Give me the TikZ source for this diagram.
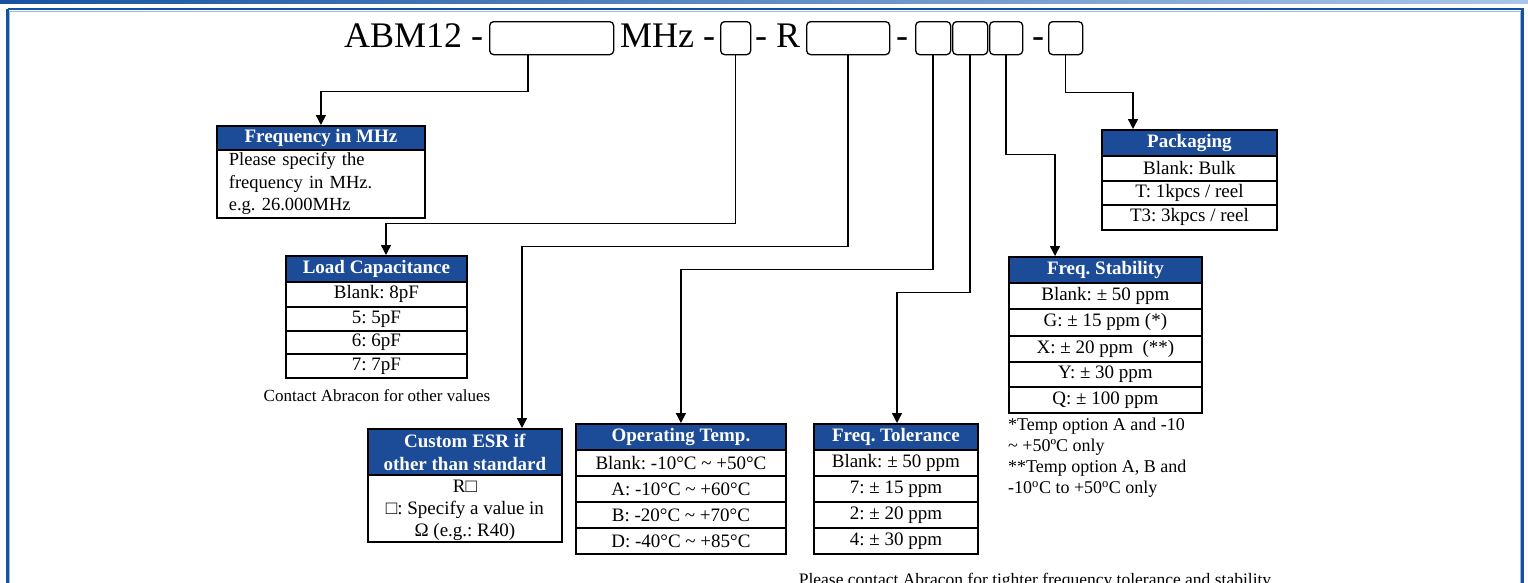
\documentclass[tikz,border=0pt]{standalone}
\usepackage{fontspec}
\setmainfont{Liberation Serif}
\usetikzlibrary{arrows.meta,calc}
\definecolor{hdrblue}{RGB}{28,76,152}
\definecolor{framedark}{RGB}{22,82,160}
\definecolor{framelight}{RGB}{150,185,225}
\definecolor{barlight}{RGB}{170,198,232}
\frenchspacing
\begin{document}
\begin{tikzpicture}[x=1pt,y=-1pt,
  ptext/.style={font=\fontsize{36}{40}\selectfont, inner sep=0pt, anchor=base west},
  pbox/.style={draw, rounded corners=4pt, line width=1.3pt, minimum height=33pt, inner sep=0pt, anchor=north west},
  thead/.style={draw=black, fill=hdrblue, text=white, font=\fontsize{19}{23}\selectfont\bfseries, line width=1.8pt, inner sep=0pt, anchor=north west, align=center},
  cell/.style={draw=black, line width=1.8pt, inner sep=0pt, anchor=north west, font=\fontsize{19}{22.5}\selectfont, align=center},
  note/.style={font=\fontsize{17}{21}\selectfont, inner sep=0pt},
  conn/.style={line width=1.4pt, -{Triangle[length=10pt,width=10pt]}}]
\useasboundingbox (0,0) rectangle (1528,582);
\clip (0,0) rectangle (1528,582);
\fill[white] (0,0) rectangle (1528,582);
% top bar and frame
\shade[left color=framedark, right color=barlight] (0,0) rectangle (1528,3);
\draw[framedark, line width=2.5pt] (7.5,9) -- (1522.5,9) -- (1522.5,600) (7.5,9) -- (7.5,600);
\draw[framelight, line width=1pt] (9.8,11.3) -- (1520.2,11.3) (9.8,11.3) -- (9.8,600) (1520.2,11.3) -- (1520.2,600);
% part number
\node[ptext] (t1) at (344,47) {ABM12 -};
\node[pbox, minimum width=124pt] (b1) at (489,21) {};
\node[ptext] (t2) at (620,47) {MHz -};
\node[pbox, minimum width=30pt] (b2) at (720,21) {};
\node[ptext] (t3) at (755,47) {- R};
\node[pbox, minimum width=83pt] (b3) at (806,21) {};
\node[ptext] (t4) at (896,47) {-};
\node[pbox, minimum width=35pt] (b4) at (915,21) {};
\node[pbox, minimum width=35pt] (b5) at (952,21) {};
\node[pbox, minimum width=33pt] (b6) at (989,21) {};
\node[ptext] (t5) at (1032,47) {-};
\node[pbox, minimum width=34pt] (b7) at (1048,21) {};
% Frequency in MHz
\node[thead, minimum width=208pt, minimum height=24pt] (fh) at (216,125) {Frequency in MHz};
\node[cell, minimum width=208pt, minimum height=68pt, text width=184pt, align=left, font=\fontsize{18.5}{22.5}\selectfont] (fb) at (216,149) {Please specify the\\frequency in MHz.\\e.g. 26.000MHz};
% Load capacitance
\node[thead, minimum width=181pt, minimum height=26pt] (lh) at (285,255) {Load Capacitance};
\node[cell, minimum width=181pt, minimum height=25pt] (l1) at (285,281) {Blank: 8pF};
\node[cell, minimum width=181pt, minimum height=24pt] (l2) at (285,306) {5: 5pF};
\node[cell, minimum width=181pt, minimum height=23pt] (l3) at (285,330) {6: 6pF};
\node[cell, minimum width=181pt, minimum height=24pt] (l4) at (285,353) {7: 7pF};
\node[note] (ln) at (377,396) {Contact Abracon for other values};
% Custom ESR
\node[thead, minimum width=194pt, minimum height=46pt] (eh) at (367,428) {Custom ESR if\\other than standard};
\node[cell, minimum width=194pt, minimum height=67pt] (eb) at (367,474) {};
\node[font=\fontsize{19}{22}\selectfont, inner sep=0pt, align=center] (ebt) at ($(eb.center)+(0,2)$) {R□\\□: Specify a value in\\Ω (e.g.: R40)};
% Operating temp
\node[thead, minimum width=210pt, minimum height=26pt] (oh) at (575,423) {Operating Temp.};
\node[cell, minimum width=210pt, minimum height=26pt] (o1) at (575,449) {Blank: -10°C \textasciitilde{} +50°C};
\node[cell, minimum width=210pt, minimum height=26pt] (o2) at (575,475) {A: -10°C \textasciitilde{} +60°C};
\node[cell, minimum width=210pt, minimum height=26pt] (o3) at (575,501) {B: -20°C \textasciitilde{} +70°C};
\node[cell, minimum width=210pt, minimum height=26pt] (o4) at (575,527) {D: -40°C \textasciitilde{} +85°C};
% Freq tolerance
\node[thead, minimum width=164pt, minimum height=26pt] (th) at (813,423) {Freq. Tolerance};
\node[cell, minimum width=164pt, minimum height=26pt] (t1r) at (813,449) {Blank: ± 50 ppm};
\node[cell, minimum width=164pt, minimum height=26pt] (t2r) at (813,475) {7: ± 15 ppm};
\node[cell, minimum width=164pt, minimum height=26pt] (t3r) at (813,501) {2: ± 20 ppm};
\node[cell, minimum width=164pt, minimum height=26pt] (t4r) at (813,527) {4: ± 30 ppm};
% Freq stability
\node[thead, minimum width=193pt, minimum height=26pt] (sh) at (1008,256) {Freq. Stability};
\node[cell, minimum width=193pt, minimum height=26pt] (s1) at (1008,282) {Blank: ± 50 ppm};
\node[cell, minimum width=193pt, minimum height=27pt] (s2) at (1008,308) {G: ± 15 ppm (*)};
\node[cell, minimum width=193pt, minimum height=26pt] (s3) at (1008,335) {X: ± 20 ppm~ (**)};
\node[cell, minimum width=193pt, minimum height=25pt] (s4) at (1008,361) {Y: ± 30 ppm};
\node[cell, minimum width=193pt, minimum height=26pt] (s5) at (1008,386) {Q: ± 100 ppm};
\node[note, anchor=north west, align=left, font=\fontsize{18}{21}\selectfont] (sn) at (1008,418) {*Temp option A and -10\\\textasciitilde{} +50ºC only\\**Temp option A, B and\\-10\textsuperscript{o}C to +50\textsuperscript{o}C only};
% Packaging
\node[thead, minimum width=175pt, minimum height=26pt] (ph) at (1101,129) {Packaging};
\node[cell, minimum width=175pt, minimum height=25pt] (p1) at (1101,155) {Blank: Bulk};
\node[cell, minimum width=175pt, minimum height=24pt] (p2) at (1101,180) {T: 1kpcs / reel};
\node[cell, minimum width=175pt, minimum height=25pt] (p3) at (1101,204) {T3: 3kpcs / reel};
% bottom note
\node[note, anchor=base, font=\fontsize{17.5}{21}\selectfont] (bn) at (1035,585) {Please contact Abracon for tighter frequency tolerance and stability};
% connectors
\draw[conn] (b1.south west) ++(39,0) -- ++(0,36) -| (fh.north);
\draw[conn] (b2.south) -- ++(0,168) -| ($(lh.north west)+(101,0)$);
\draw[conn] (b3.south) -- ++(0,191) -| ($(eh.north west)+(155,0)$);
\draw[conn] (b4.south) -- ++(0,214) -| (oh.north);
\draw[conn] (b5.south) -- ++(0,237) -| ($(th.north west)+(84,0)$);
\draw[conn] (b6.south) -- ++(0,99) -| ($(sh.north west)+(47,0)$);
\draw[conn] (b7.south) -- ++(0,37) -| ($(ph.north west)+(32,0)$);
\end{tikzpicture}
\end{document}
